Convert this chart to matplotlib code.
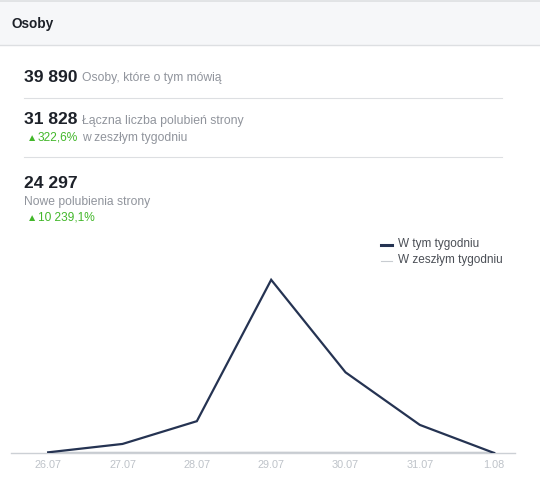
import matplotlib
matplotlib.use("Agg")
import matplotlib.pyplot as plt
from matplotlib.patches import Rectangle
from matplotlib.lines import Line2D

plt.rcParams['font.family'] = ['Liberation Sans', 'DejaVu Sans']

# data
days = ['26.07', '27.07', '28.07', '29.07', '30.07', '31.07', '1.08']
this_week = [50, 680, 2390, 13010, 6060, 2110, 0]
last_week = [30, 35, 30, 40, 35, 30, 35]

title = 'Osoby'
big_numbers = ['39 890', '31 828', '24 297']
big_labels = ['Osoby, które o tym mówią', 'Łączna liczba polubień strony', 'Nowe polubienia strony']
changes = [None, '322,6%', '10 239,1%']
change_suffix = [None, 'w zeszłym tygodniu', '']
legend_labels = ['W tym tygodniu', 'W zeszłym tygodniu']

W, H = 540, 499
navy = '#253352'
grey_txt = '#90949c'
green = '#42b72a'

fig = plt.figure(figsize=(W / 100, H / 100), dpi=100)
fig.patch.set_facecolor('white')

def fx(x):
    return x / W

def fy(y):
    return 1 - y / H

# header band
fig.patches.append(Rectangle((0, fy(45)), 1, fy(1) - fy(45), transform=fig.transFigure,
                             facecolor='#f6f7f9', edgecolor='none', zorder=0))
fig.add_artist(Line2D([0, 1], [fy(1), fy(1)], color='#dddfe2', lw=1.2))
fig.add_artist(Line2D([0, 1], [fy(45), fy(45)], color='#dddfe2', lw=1))
fig.text(fx(12), fy(24), title, fontsize=9.8, fontweight='bold', color='#1d2129', va='center')

# stats block
fig.text(fx(24), fy(77), big_numbers[0], fontsize=12.6, fontweight='bold', color='#1d2129', va='center')
fig.text(fx(82), fy(78), big_labels[0], fontsize=8.7, color=grey_txt, va='center')
fig.add_artist(Line2D([fx(24), fx(502)], [fy(98), fy(98)], color='#dddfe2', lw=0.8))

fig.text(fx(24), fy(120), big_numbers[1], fontsize=12.6, fontweight='bold', color='#1d2129', va='center')
fig.text(fx(82), fy(121), big_labels[1], fontsize=8.8, color=grey_txt, va='center')
fig.text(fx(27), fy(138), '▲', fontsize=7.5, color=green, va='center')
fig.text(fx(38), fy(138), changes[1], fontsize=8.6, color=green, va='center')
fig.text(fx(82), fy(138), change_suffix[1], fontsize=8.7, color=grey_txt, va='center')
fig.add_artist(Line2D([fx(24), fx(502)], [fy(157), fy(157)], color='#dddfe2', lw=0.8))

fig.text(fx(24), fy(184), big_numbers[2], fontsize=12.6, fontweight='bold', color='#1d2129', va='center')
fig.text(fx(24), fy(202), big_labels[2], fontsize=8.7, color=grey_txt, va='center')
fig.text(fx(27), fy(218), '▲', fontsize=7.5, color=green, va='center')
fig.text(fx(38), fy(218), changes[2], fontsize=8.6, color=green, va='center')

# chart
ax = fig.add_axes([fx(11), fy(453), fx(515) - fx(11), fy(240) - fy(453)])
x = list(range(len(days)))
ax.plot(x, last_week, color='#c8ccd1', lw=1.2, label=legend_labels[1], zorder=2)
ax.plot(x, this_week, color=navy, lw=1.6, label=legend_labels[0], zorder=3, solid_joinstyle='miter')
ax.set_xlim(-0.5, len(days) - 1 + 0.28)
ax.set_ylim(0, 16000)
ax.set_xticks(x)
ax.set_xticklabels(days)
ax.tick_params(axis='x', length=0, pad=5, labelsize=7.8, labelcolor='#bec3c9')
ax.set_yticks([])
for s in ['top', 'right', 'left']:
    ax.spines[s].set_visible(False)
ax.spines['bottom'].set_color('#ccd0d5')
ax.spines['bottom'].set_linewidth(1)
ax.set_facecolor('none')

# legend
fig.add_artist(Line2D([fx(381), fx(392)], [fy(245), fy(245)], color=navy, lw=2.2))
fig.text(fx(398), fy(244), legend_labels[0], fontsize=8.5, color='#4b4f56', va='center')
fig.add_artist(Line2D([fx(381), fx(392)], [fy(261), fy(261)], color='#c8ccd1', lw=0.8))
fig.text(fx(398), fy(260), legend_labels[1], fontsize=8.5, color='#4b4f56', va='center')

fig.savefig('out.png', dpi=100)
